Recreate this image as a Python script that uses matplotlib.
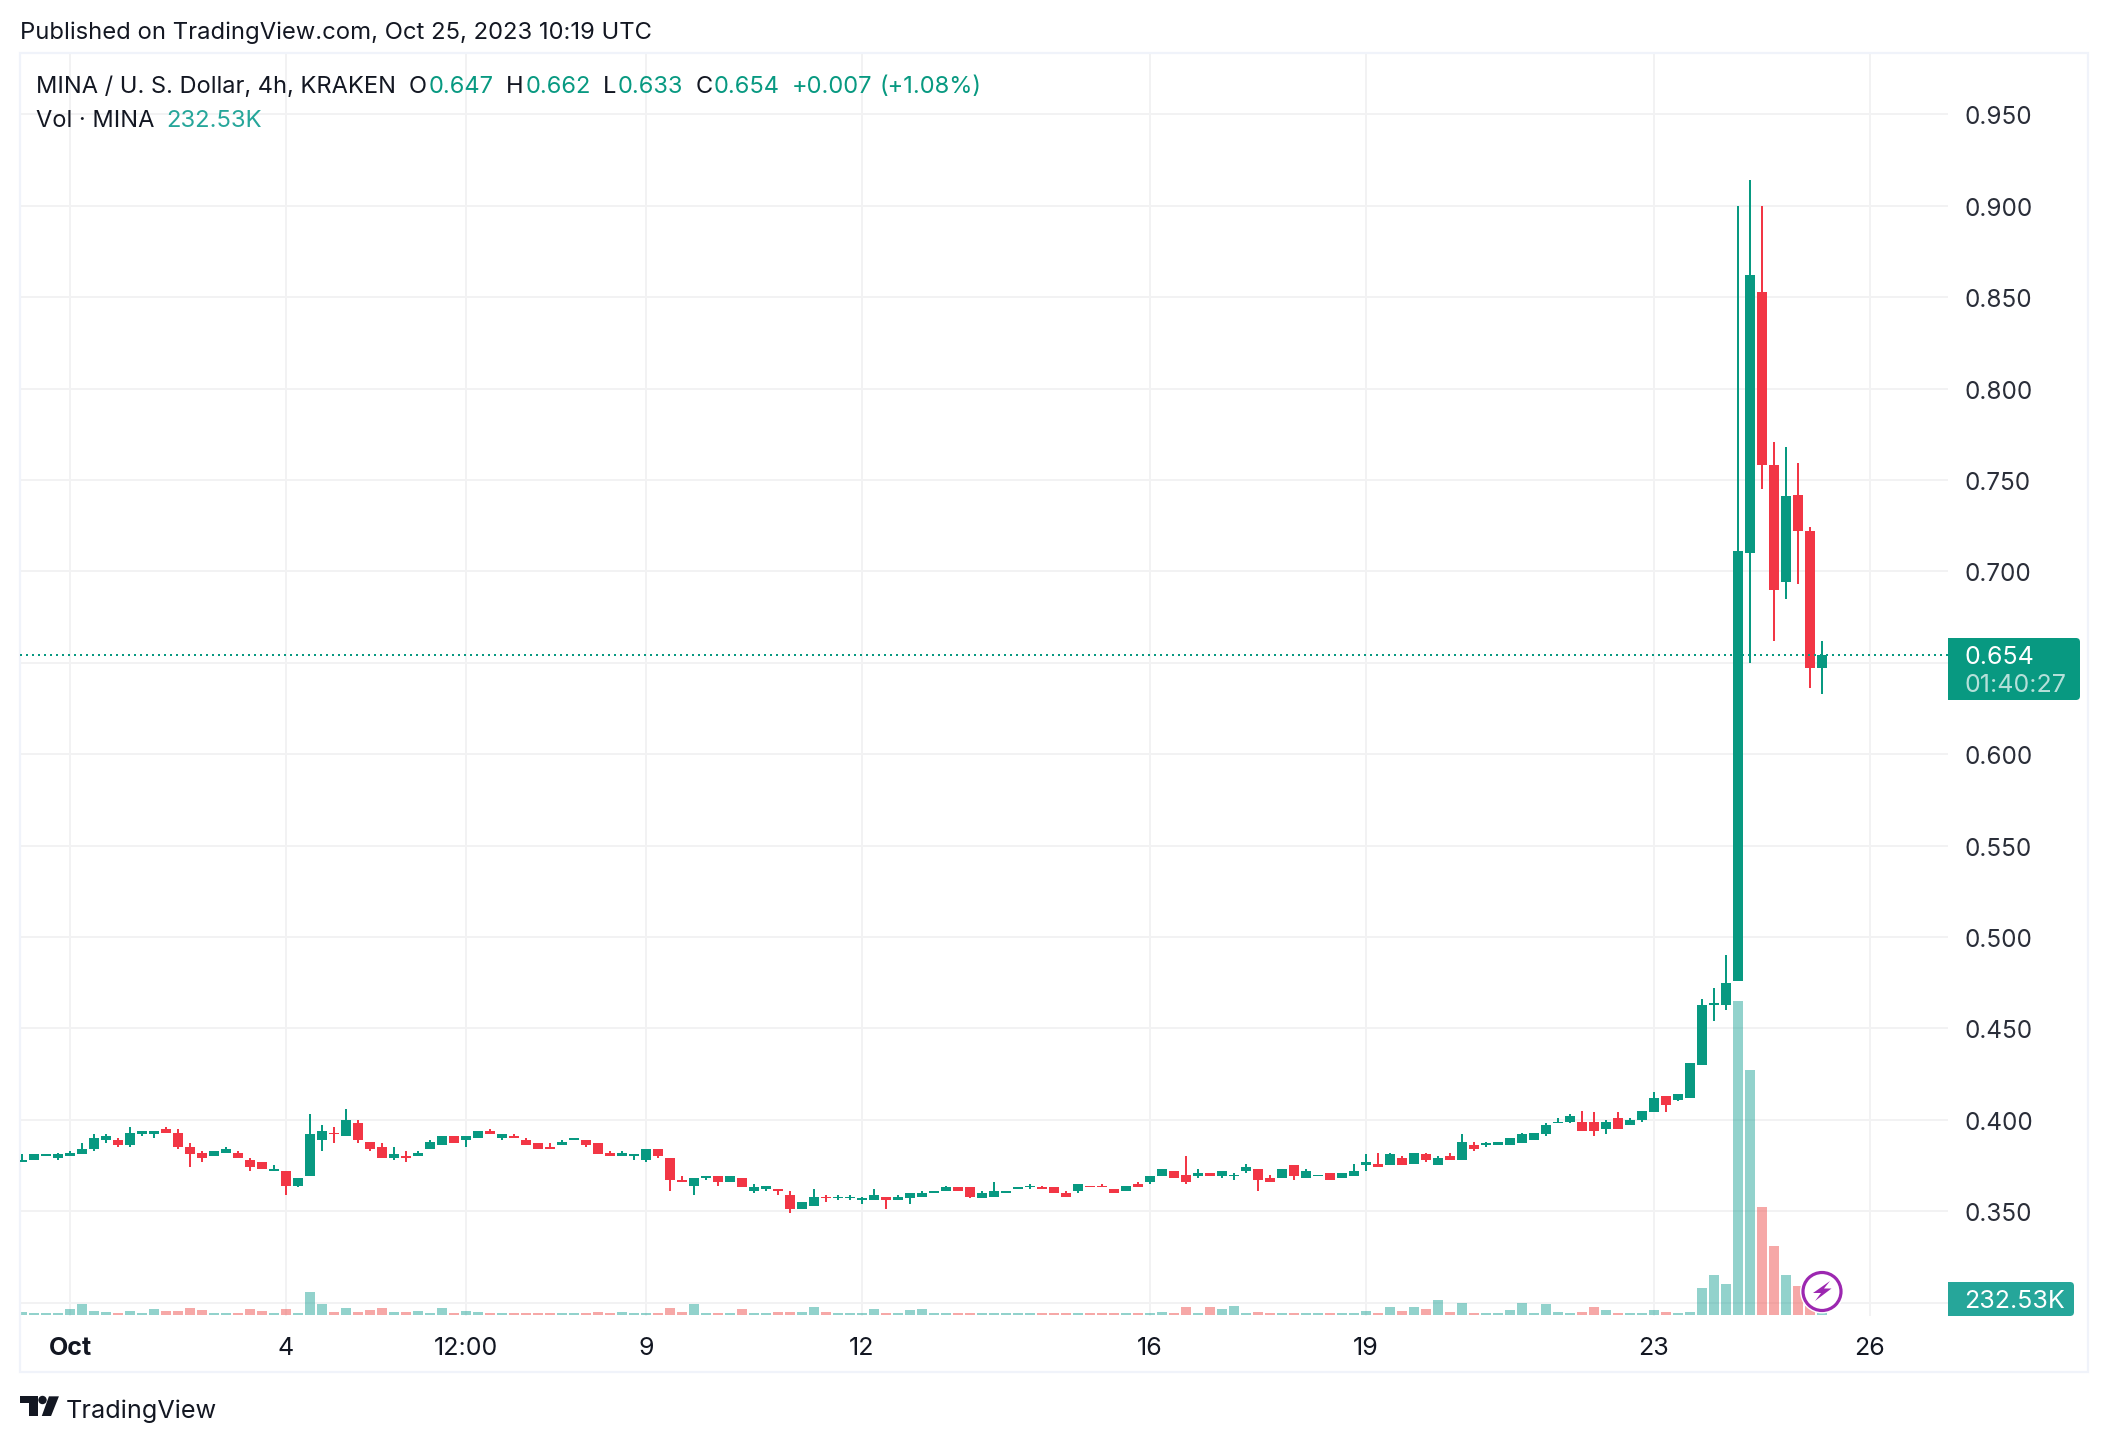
import matplotlib
matplotlib.use("Agg")
import matplotlib.pyplot as plt
from matplotlib.patches import Rectangle, FancyBboxPatch, Polygon, Circle
from matplotlib.transforms import Affine2D, ScaledTranslation

plt.rcParams['font.family'] = ['Inter', 'DejaVu Sans']

W, H = 2108, 1442
GREEN = '#089981'; RED = '#F23645'
VGREEN = '#26A69A'; VRED = '#EF5350'
INK = '#131722'; GRID = '#F2F2F3'; FRAME = '#F0F3FA'

# OHLC in thousandths of a dollar, 4h bars
opens = [377,378,380,379,380,381,384,389,389,386,392,392,395,393,385,382,380,382,382,378,377,372,372,364,369,389,393,391,398,388,385,379,380,380,384,386,391,389,390,394,390,391,
         389,387,385,386,389,389,387,382,380,380,378,384,379,367,364,368,369,366,368,361,362,362,359,351,353,358,357,357,356,356,358,356,357,358,360,361,363,363,357,358,360,362,
         363,363,363,360,361,364,364,362,361,365,366,369,372,370,369,371,369,369,372,373,368,368,375,368,369,371,368,369,375,376,375,379,376,381,375,380,378,386,386,386,386,387,
         389,392,398,399,399,399,395,401,397,400,404,413,411,412,430,463,463,476,710,853,758,694,742,722,647]
highs = [381,381,381,382,383,387,392,392,390,396,394,394,396,395,387,383,383,385,383,379,377,375,372,368,403,397,396,406,400,388,387,385,383,383,389,391,391,391,394,395,392,392,
         390,387,387,389,390,389,387,383,383,381,384,384,379,369,368,369,369,369,368,365,364,362,361,355,362,359,359,359,358,362,358,359,360,361,361,364,363,363,361,366,361,363,
         365,364,363,361,365,364,365,362,364,366,369,373,372,380,373,371,372,371,376,373,370,373,375,373,370,371,371,376,381,382,382,380,382,382,380,382,392,388,388,388,390,393,
         393,398,401,403,405,404,400,404,401,405,415,413,414,431,466,472,490,900,914,900,771,768,759,724,662]
lows = [377,378,380,378,380,381,383,387,385,385,391,390,393,384,374,377,380,382,379,372,373,372,359,363,369,383,387,391,387,383,379,378,377,380,384,386,387,385,390,392,389,390,
        386,384,384,386,389,385,381,380,380,378,377,379,361,366,359,367,364,366,363,360,361,359,349,351,353,355,356,356,354,356,351,356,354,358,360,361,361,357,357,358,360,362,
        362,362,360,358,360,363,363,360,361,363,365,369,368,365,368,369,368,367,371,361,366,368,367,368,369,367,368,369,372,374,375,375,376,377,375,378,378,383,385,386,386,387,
        389,391,398,398,394,391,392,395,397,399,404,404,410,412,430,454,460,476,650,745,662,685,693,636,633]
closes = [378,381,381,381,382,384,390,391,386,393,394,394,393,385,381,379,383,384,379,374,373,373,364,368,392,394,392,400,389,384,379,381,379,382,388,391,387,391,394,392,392,390,
          386,384,384,388,390,386,381,380,382,381,384,380,367,366,368,369,366,369,363,363,364,361,351,355,358,357,358,358,357,359,356,358,360,360,361,363,361,358,360,361,361,363,
          364,362,360,358,365,363,363,360,364,363,369,373,368,366,371,369,372,370,374,367,366,373,369,372,370,367,371,372,377,374,381,375,382,378,379,378,388,384,387,388,390,392,
          393,397,399,402,394,394,399,395,400,405,412,408,414,431,463,464,475,711,862,758,690,741,722,647,654]
# volume in thousands
volumes = [300,200,200,200,600,1100,400,300,200,400,200,600,400,400,700,500,200,200,200,600,400,200,600,200,2300,1100,300,700,300,500,700,300,300,400,200,700,200,400,300,200,200,200,
           200,200,200,200,200,200,300,200,300,200,200,200,700,300,1100,200,200,200,600,200,200,300,300,300,800,300,200,200,200,600,200,200,500,600,200,200,200,200,200,200,200,200,
           200,200,200,200,200,200,200,200,200,200,200,300,200,800,200,800,600,900,200,300,200,200,200,200,200,200,200,200,400,200,800,400,800,600,1500,300,1200,200,200,200,500,1200,
           200,1100,300,200,300,800,500,200,200,200,500,300,200,300,2700,4000,3100,31400,24500,10800,6900,4000,2900,900,233]

price_ticks = [0.30,0.35,0.40,0.45,0.50,0.55,0.60,0.65,0.70,0.75,0.80,0.85,0.90,0.95]
price_labels = ['', '0.350','0.400','0.450','0.500','0.550','0.600','','0.700','0.750','0.800','0.850','0.900','0.950']
time_ticks = [4,22,37,52,70,94,112,136,154]
time_labels = ['Oct','4','12:00','9','12','16','19','23','26']

def px(x, y):
    return x / W, 1 - y / H

fig = plt.figure(figsize=(W/100, H/100), dpi=100, facecolor='white')

L, T, R, B = 20, 53, 1948, 1316
YLO, YHI = 0.29263, 0.98353
ax = fig.add_axes([L/W, 1-B/H, (R-L)/W, (B-T)/H])
vax = ax.twinx()
ax.set_zorder(vax.get_zorder()+1)   # price above volume
ax.patch.set_visible(False)
vax.patch.set_facecolor('white')

n = len(closes)
xs = list(range(n))
ax.set_xlim((L-22)/12, (R-22)/12)
ax.set_ylim(YLO, YHI)
vax.set_ylim(-100, 126200)

up = [c >= o for o, c in zip(opens, closes)]
cols = [GREEN if u else RED for u in up]
vcols = [(VGREEN if u else VRED) for u in up]

vax.bar(xs, volumes, width=10/12, color=vcols, alpha=0.5, linewidth=0, zorder=3)
ax.vlines(xs, [l/1000 for l in lows], [h/1000 for h in highs], colors=cols, linewidth=1.44, zorder=3, capstyle='butt')
ax.bar(xs, [(c-o)/1000 for o, c in zip(opens, closes)], bottom=[o/1000 for o in opens],
       width=10/12, color=cols, linewidth=0, zorder=4)
ax.axhline(closes[-1]/1000, color=GREEN, linewidth=1.44, linestyle=(0, (1, 2)), dash_capstyle='butt', zorder=5)

for a in (ax, vax):
    for s in a.spines.values():
        s.set_visible(False)
vax.set_yticks([])
ax.set_xticks(time_ticks); ax.set_xticklabels(time_labels, fontsize=18, color=INK)
ax.get_xticklabels()[0].set_fontweight('bold')
ax.set_yticks(price_ticks); ax.set_yticklabels(price_labels, fontsize=17.5, color='#2A2E39')
ax.yaxis.tick_right()
ax.tick_params(axis='y', length=0, pad=12)
ax.tick_params(axis='x', length=0, pad=15)
down1 = ScaledTranslation(0, -1/100, fig.dpi_scale_trans)
for t in ax.get_yticklabels():
    t.set_transform(t.get_transform() + down1)
# gridlines sit beneath the volume bars
for t in time_ticks:
    vax.axvline(t, color=GRID, linewidth=1.44, zorder=1)
for p in price_ticks:
    vax.axhline((p-YLO)/(YHI-YLO)*126300-100, color=GRID, linewidth=1.44, zorder=1)

def ftext(x, y, s, **kw):
    kw.setdefault('fontsize', 17); kw.setdefault('color', INK); kw.setdefault('va', 'center'); kw.setdefault('ha', 'left')
    fx, fy = px(x, y)
    return fig.text(fx, fy, s, **kw)

def frect(x0, y0, x1, y1, **kw):
    fx0, fy0 = px(x0, y1); fx1, fy1 = px(x1, y0)
    p = Rectangle((fx0, fy0), fx1-fx0, fy1-fy0, transform=fig.transFigure, **kw)
    fig.add_artist(p); return p

# outer frame
frect(20, 53, 2088, 1372, fill=False, edgecolor=FRAME, linewidth=1.6)

# header and legend
ftext(20, 33, 'Published on TradingView.com, Oct 25, 2023 10:19 UTC', fontsize=17.15)
ftext(36, 87, 'MINA / U. S. Dollar, 4h, KRAKEN')
for x, lab, xv, val in [(409,'O',429,'0.647'),(506,'H',526,'0.662'),(603,'L',618,'0.633'),(696,'C',714,'0.654')]:
    ftext(x, 87, lab); ftext(xv, 87, val, color=GREEN)
ftext(792, 87, '+0.007', color=GREEN); ftext(880, 87, '(+1.08%)', color=GREEN)
ftext(36, 121, 'Vol · MINA'); ftext(166, 121, '232.53K', color=VGREEN, fontsize=17.2)

def label(x0, y0, x1, y1, color):
    p = FancyBboxPatch((x0+3, H-y1+3), x1-x0-6, y1-y0-6, boxstyle='round,pad=3,rounding_size=4',
                       transform=Affine2D().scale(1/W, 1/H)+fig.transFigure, facecolor=color, edgecolor='none')
    fig.add_artist(p)
    frect(x0, y0, x0+10, y1, facecolor=color, edgecolor='none')

label(1948, 638, 2080, 700, GREEN)
ftext(1964, 657, '0.654', color='white', fontsize=18, zorder=10)
ftext(1964, 685, '01:40:27', color='#B5E0D9', fontsize=18, zorder=10)
label(1948, 1282, 2074, 1316, VGREEN)
ftext(1964, 1301, '232.53K', color='white', fontsize=18, zorder=10)

# bolt badge
sc = Affine2D().scale(1/W, 1/H) + fig.transFigure
def fp(x, y): return (x, H-y)
fig.add_artist(Circle(fp(1822, 1291.5), 22, transform=sc, facecolor='white', edgecolor='none'))
fig.add_artist(Circle(fp(1822, 1291.5), 19, transform=sc, facecolor='white', edgecolor='#9C27B0', linewidth=2.3))
bolt = [(1830,1281),(1813,1293),(1821,1293),(1815,1301),(1831.5,1288.5),(1824,1288.5)]
fig.add_artist(Polygon([fp(*q) for q in bolt], transform=sc, facecolor='#9C27B0', edgecolor='none'))

# logo
lg = lambda a, b: fp(a/2.8, 1280+b/3)
fig.add_artist(Polygon([lg(56,349),lg(105,349),lg(105,408),lg(80,408),lg(80,370),lg(56,370)], transform=sc, facecolor=INK, edgecolor='none'))
fig.add_artist(Circle(lg(119,360), 4.2, transform=sc, facecolor=INK, edgecolor='none'))
fig.add_artist(Polygon([lg(137,349),lg(165,349),lg(143,408),lg(117,408)], transform=sc, facecolor=INK, edgecolor='none'))
ftext(66, 1411, 'TradingView', fontsize=18.2)

fig.savefig('out.png', dpi=100, facecolor='white')
